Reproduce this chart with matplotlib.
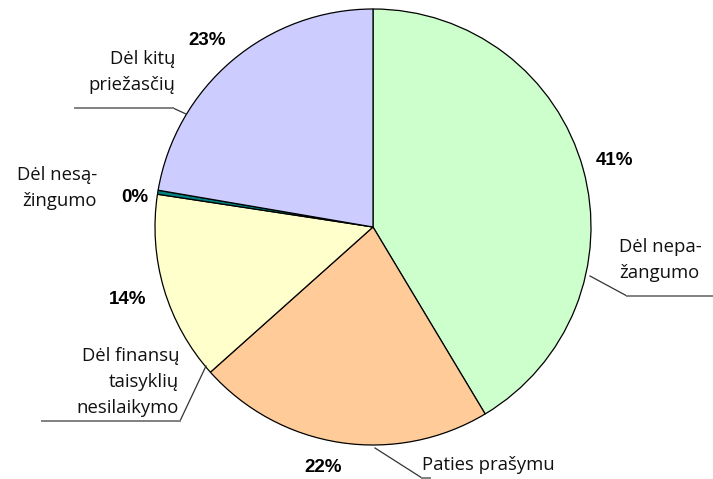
import matplotlib.pyplot as plt

categories = ['Dėl nepa-\nžangumo', 'Paties prašymu', 'Dėl finansų\ntaisyklių\nnesilaikymo',
              'Dėl nesą-\nžingumo', 'Dėl kitų\npriežasčių']
values = [41.4, 22.0, 14.0, 0.3, 22.3]
pct_labels = ['41%', '22%', '14%', '0%', '23%']
colors = ['#CCFFCC', '#FFCC99', '#FFFFCC', '#008080', '#CCCCFF']

H = 479
fig = plt.figure(figsize=(7.13, 4.79), dpi=100)
ax = fig.add_axes([0, 0, 1, 1])

ax.pie(values, colors=colors, startangle=90, counterclock=False,
       center=(373, H - 227), radius=218, frame=True,
       wedgeprops=dict(edgecolor='black', linewidth=0.9))
ax.set_xlim(0, 713)
ax.set_ylim(0, H)
ax.set_aspect('equal')
ax.axis('off')

lab_font = dict(family='Open Sans', fontsize=13.3, color='#111111')
pct_font = dict(family='Liberation Sans', fontsize=13.5, fontweight='bold')

# percentage labels
pct_pos = [(614, 160), (323, 467), (128, 299), (135, 197), (207, 40)]
for (x, y), t in zip(pct_pos, pct_labels):
    ax.text(x, H - y, t, ha='center', va='center', **pct_font)

# category labels
ax.text(619, H - 260, categories[0], ha='left', va='center', linespacing=1.55, **lab_font)
ax.text(422, H - 465, categories[1], ha='left', va='center', **lab_font)
ax.text(179, H - 382, categories[2], ha='right', va='center', linespacing=1.55, **lab_font)
ax.text(97, H - 188, categories[3], ha='right', va='center', linespacing=1.55, **lab_font)
ax.text(175, H - 72, categories[4], ha='right', va='center', linespacing=1.55, **lab_font)

# leader lines
lines = [
    ([590, 627, 713], [276, 296, 296]),
    ([375, 422, 430], [448, 478, 478]),
    ([206, 180, 42], [366, 421, 421]),
    ([186, 173, 75], [114, 108, 108]),
]
for xs, ys in lines:
    ax.plot(xs[:2], [H - y for y in ys[:2]], color='#333333', lw=0.9)
    ax.plot(xs[1:], [H - y for y in ys[1:]], color='#808080', lw=1.4)

fig.savefig('out.png', dpi=100)
